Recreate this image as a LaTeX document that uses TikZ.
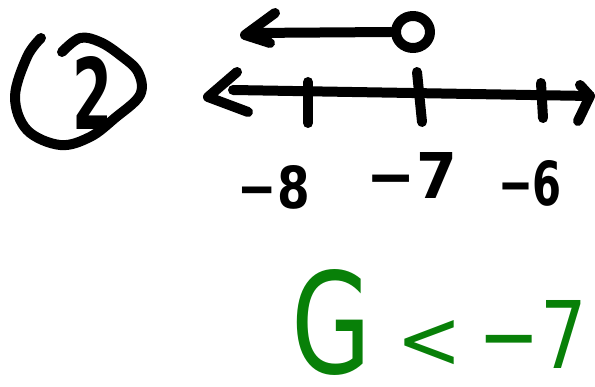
\documentclass[tikz,border=0pt]{standalone}
\usepackage{fontspec}
\usepackage{graphicx}
\setmainfont{DejaVu Sans}
\usetikzlibrary{shapes.geometric}
\definecolor{penblack}{RGB}{0,0,0}
\definecolor{pengreen}{RGB}{8,128,8}
\tikzset{
  pen/.style={line width=10pt, line cap=round, line join=round, draw=penblack},
  greenpen/.style={pen, draw=pengreen},
  lbl/.style={inner sep=0pt, outer sep=0pt, text=penblack},
  glbl/.style={inner sep=0pt, outer sep=0pt, text=pengreen},
}
\begin{document}
\begin{tikzpicture}[x=1pt, y=-1pt]
\useasboundingbox (0,0) rectangle (595,387);

% circled problem number
\draw[pen] plot[smooth, tension=0.6] coordinates {(41,38) (27,57) (15,97) (27,130) (60,145) (90,137) (115,118) (140,95) (138,72) (120,55) (100,42) (80,38) (62,52)};
\node[lbl] (two) at (93,93) {\resizebox{40pt}{73pt}{\bfseries 2}};

% solution graph: open circle at -7, arrow to the left
\node[ellipse, pen, minimum width=34pt, minimum height=32pt, inner sep=0pt] (open) at (413,32) {};
\coordinate (topTip) at (245,35);
\coordinate (topLineEnd) at (250,33);
\draw[pen] (open.west) -- (topLineEnd);
\draw[pen] (275,13) -- (topTip) -- (270,43);

% number line
\coordinate (lineL) at (208,97);
\coordinate (lineStart) at (233,90);
\coordinate (lineR) at (590,96);
\draw[pen] (lineStart) -- (lineR);
\draw[pen] (237,72) -- (lineL) -- (248,112);
\draw[pen] (580,85) -- (lineR) -- (578,121);

% ticks
\coordinate (t8a) at (308,82);  \coordinate (t8b) at (308,123);
\coordinate (t7a) at (417,72);  \coordinate (t7b) at (422,122);
\coordinate (t6a) at (541,83);  \coordinate (t6b) at (543,118);
\draw[pen] (t8a) -- (t8b);
\draw[pen] (t7a) -- (t7b);
\draw[pen] (t6a) -- (t6b);

% tick labels
\node[lbl] (m8) at (274,187) {\resizebox{72pt}{43pt}{\bfseries −8}};
\node[lbl] (m7) at (412,175) {\resizebox{90pt}{46pt}{\bfseries −7}};
\node[lbl] (m6) at (530,183) {\resizebox{64pt}{45pt}{\bfseries −6}};

% answer
\node[glbl] (gvar) at (332,322) {\resizebox{80pt}{104pt}{G}};
\node[glbl] (lt) at (430,344) {\resizebox{66pt}{48pt}{<}};
\node[glbl] (rhs) at (533,334) {\resizebox{108pt}{68pt}{−7}};
\end{tikzpicture}
\end{document}
